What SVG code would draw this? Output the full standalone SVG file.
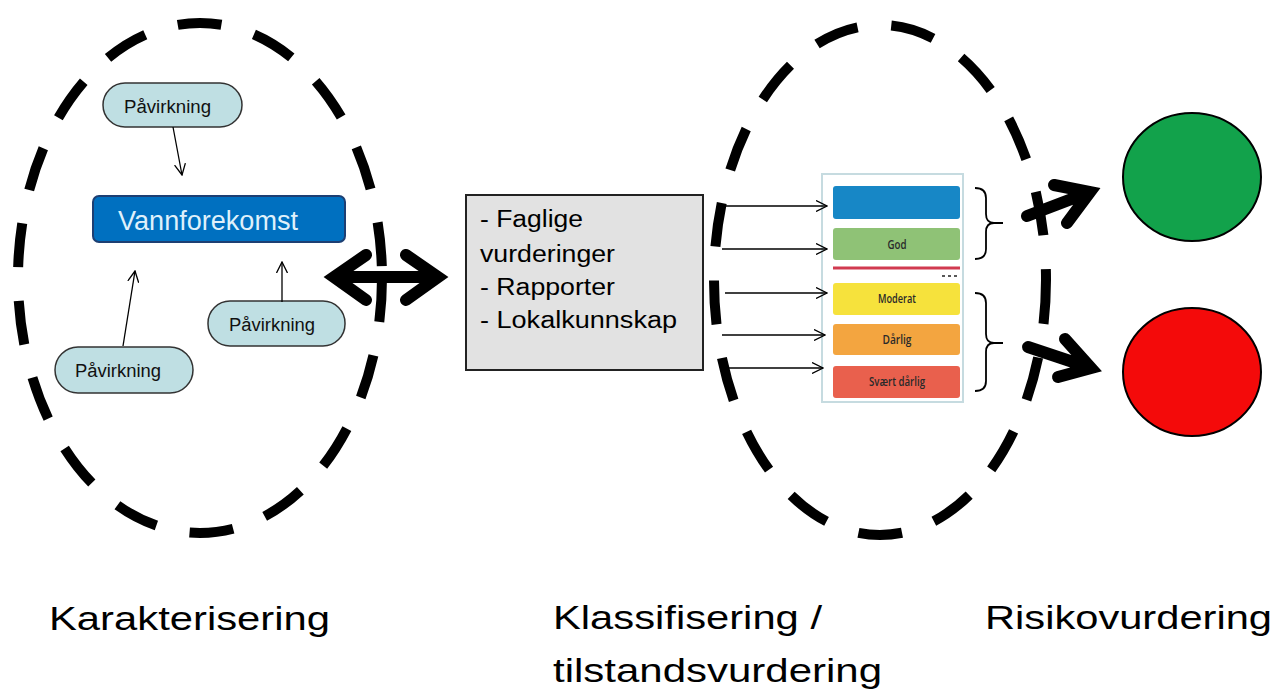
<svg xmlns="http://www.w3.org/2000/svg" width="1277" height="690" viewBox="0 0 1277 690">
<style>
.dash{fill:none;stroke:#000;stroke-width:10;stroke-dasharray:44 34}
.pill{fill:#bfdfe3;stroke:#333;stroke-width:1.5}
.pt{font-family:"Liberation Sans",Arial,sans-serif;font-size:18px;fill:#111}
.thin{fill:none;stroke:#000;stroke-width:1.3}
.big{fill:none;stroke:#000;stroke-width:12;stroke-linecap:round;stroke-linejoin:miter;stroke-miterlimit:10}
.lbl{font-family:"Liberation Sans",Arial,sans-serif;font-size:34px;fill:#000}
.gt{font-family:"Liberation Sans",Arial,sans-serif;font-size:23.5px;fill:#000}
.ct{font-family:"Open Sans","Noto Sans",sans-serif;font-size:13px;font-weight:600;fill:#2a2a2a}
.brace{fill:none;stroke:#000;stroke-width:1.8}
</style>
<defs>
<marker id="open" viewBox="0 0 12 12" refX="11" refY="6" markerWidth="12" markerHeight="12" markerUnits="userSpaceOnUse" orient="auto">
<path d="M0,0.5 L11,6 L0,11.5" fill="none" stroke="#000" stroke-width="1.3"/>
</marker>
</defs>
<rect width="1277" height="690" fill="#fff"/>

<g id="ellipse-karakterisering"><ellipse class="dash" cx="200" cy="278" rx="182" ry="255"/></g>
<g id="ellipse-klassifisering"><ellipse class="dash" cx="880" cy="280" rx="166" ry="255"/></g>

<g id="vannforekomst">
<rect x="93" y="196" width="252" height="46" rx="6" fill="#0070c0" stroke="#1d3f73" stroke-width="2"/>
<text x="118" y="230" font-family="Liberation Sans,Arial,sans-serif" font-size="27" fill="#dff0fb" textLength="180" lengthAdjust="spacingAndGlyphs">Vannforekomst</text>
</g>
<g id="pavirkning-top">
<rect class="pill" x="103" y="83" width="139" height="44" rx="22"/>
<text class="pt" x="124" y="113" textLength="87" lengthAdjust="spacingAndGlyphs">Påvirkning</text>
</g>
<g id="pavirkning-right">
<rect class="pill" x="208" y="301" width="137" height="45" rx="22"/>
<text class="pt" x="229" y="331" textLength="86" lengthAdjust="spacingAndGlyphs">Påvirkning</text>
</g>
<g id="pavirkning-bottom">
<rect class="pill" x="55" y="347" width="138" height="46" rx="23"/>
<text class="pt" x="75" y="377" textLength="86" lengthAdjust="spacingAndGlyphs">Påvirkning</text>
</g>

<g id="kilder">
<rect x="466" y="195" width="237" height="175" fill="#e2e2e2" stroke="#222" stroke-width="2"/>
<text class="gt" x="480" y="227" textLength="103" lengthAdjust="spacingAndGlyphs">- Faglige</text>
<text class="gt" x="480" y="262" textLength="135" lengthAdjust="spacingAndGlyphs">vurderinger</text>
<text class="gt" x="480" y="295" textLength="135" lengthAdjust="spacingAndGlyphs">- Rapporter</text>
<text class="gt" x="480" y="328" textLength="197" lengthAdjust="spacingAndGlyphs">- Lokalkunnskap</text>
</g>

<g id="tilstandsklasser">
<rect x="822" y="174" width="141" height="228" fill="#fff" stroke="#c6dbe0" stroke-width="2"/>
<rect x="833" y="186" width="127" height="33" rx="3" fill="#1787c6"/>
<rect x="833" y="228" width="127" height="32" rx="3" fill="#8fc276"/>
<text class="ct" x="897" y="249" text-anchor="middle" textLength="19" lengthAdjust="spacingAndGlyphs">God</text>
<rect x="833" y="266.5" width="127" height="3" fill="#d13a50"/>
<line x1="942" y1="276" x2="960" y2="276" stroke="#222" stroke-width="1.6" stroke-dasharray="3 3"/>
<rect x="833" y="283" width="127" height="32" rx="3" fill="#f6e23c"/>
<text class="ct" x="897" y="303" text-anchor="middle" textLength="38" lengthAdjust="spacingAndGlyphs">Moderat</text>
<rect x="833" y="324" width="127" height="31" rx="3" fill="#f3a540"/>
<text class="ct" x="897" y="344" text-anchor="middle" textLength="29" lengthAdjust="spacingAndGlyphs" fill="#5a3a12">Dårlig</text>
<rect x="833" y="366" width="127" height="32" rx="3" fill="#e9604d"/>
<text class="ct" x="897" y="386" text-anchor="middle" textLength="56" lengthAdjust="spacingAndGlyphs" fill="#2a0c0c">Svært dårlig</text>
</g>

<g id="risiko-lav"><ellipse cx="1192" cy="177" rx="69" ry="64" fill="#12a24b" stroke="#000" stroke-width="2"/></g>
<g id="risiko-hoy"><ellipse cx="1192" cy="372" rx="69" ry="64" fill="#f40a0a" stroke="#000" stroke-width="2"/></g>

<g id="connectors">
<line class="thin" x1="173" y1="127" x2="182" y2="175" marker-end="url(#open)"/>
<line class="thin" x1="123" y1="346" x2="135" y2="271" marker-end="url(#open)"/>
<line class="thin" x1="282" y1="302" x2="282" y2="262" marker-end="url(#open)"/>
<path class="big" d="M334,277 L438,277 M366,255 L334,277 L366,300 M406,255 L438,277 L406,300"/>
<line class="thin" x1="725" y1="206" x2="827" y2="206" marker-end="url(#open)"/>
<line class="thin" x1="722" y1="249" x2="827" y2="249" marker-end="url(#open)"/>
<line class="thin" x1="725" y1="293" x2="827" y2="293" marker-end="url(#open)"/>
<line class="thin" x1="722" y1="335" x2="825" y2="335" marker-end="url(#open)"/>
<line class="thin" x1="725" y1="368" x2="823" y2="368" marker-end="url(#open)"/>
<path class="brace" d="M975,188 Q986,188 986,198 L986,214 Q986,223 994,223 L1003,223 M994,223 Q986,223 986,232 L986,249 Q986,259 975,259"/>
<path class="brace" d="M975,293 Q986,293 986,303 L986,334 Q986,343 994,343 L1003,343 M994,343 Q986,343 986,352 L986,381 Q986,391 975,391"/>
<path class="big" d="M1027,216 L1090,192 M1054,185 L1090,192 L1067,223"/>
<path class="big" d="M1028,347 L1091,368 M1065,339 L1091,368 L1058,377"/>
</g>

<g id="labels">
<text class="lbl" x="49" y="630" textLength="281" lengthAdjust="spacingAndGlyphs">Karakterisering</text>
<text class="lbl" x="553" y="629" textLength="269" lengthAdjust="spacingAndGlyphs">Klassifisering /</text>
<text class="lbl" x="553" y="682" textLength="329" lengthAdjust="spacingAndGlyphs">tilstandsvurdering</text>
<text class="lbl" x="985" y="629" textLength="287" lengthAdjust="spacingAndGlyphs">Risikovurdering</text>
</g>
</svg>
